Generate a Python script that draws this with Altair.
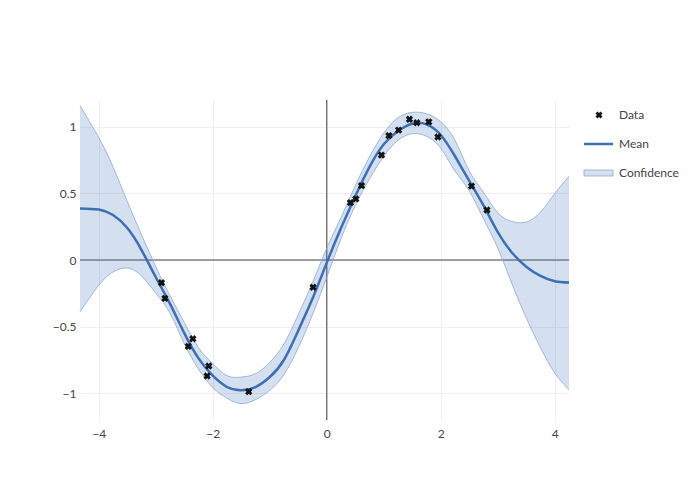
import altair as alt
import pandas as pd

# Posterior grid
grid_x = [-4.33, -4.0, -3.75, -3.5, -3.25, -3.0, -2.75, -2.5, -2.25, -2.0, -1.75, -1.5,
          -1.25, -1.0, -0.75, -0.5, -0.25, 0.0, 0.25, 0.5, 0.75, 1.0, 1.25, 1.5, 1.75,
          2.0, 2.25, 2.5, 2.75, 3.0, 3.25, 3.5, 3.75, 4.0, 4.25]
mean_y = [0.388, 0.38, 0.338, 0.24, 0.075, -0.13, -0.33, -0.55, -0.74, -0.87, -0.955, -0.98,
          -0.955, -0.88, -0.75, -0.53, -0.29, -0.02, 0.24, 0.48, 0.70, 0.87, 0.97, 1.025, 1.02,
          0.94, 0.78, 0.595, 0.41, 0.21, 0.055, -0.05, -0.12, -0.16, -0.17]
upper_y = [1.16, 0.92, 0.70, 0.44, 0.19, -0.05, -0.27, -0.47, -0.66, -0.78, -0.87, -0.88,
           -0.855, -0.77, -0.63, -0.41, -0.17, 0.09, 0.32, 0.56, 0.775, 0.955, 1.07, 1.11, 1.10,
           1.04, 0.90, 0.67, 0.51, 0.355, 0.29, 0.285, 0.36, 0.50, 0.63]
lower_y = [-0.39, -0.19, -0.09, -0.06, -0.12, -0.25, -0.40, -0.63, -0.82, -0.96, -1.04, -1.08,
           -1.05, -0.98, -0.86, -0.66, -0.41, -0.13, 0.16, 0.41, 0.61, 0.78, 0.90, 0.95, 0.93,
           0.84, 0.67, 0.52, 0.31, 0.09, -0.18, -0.435, -0.66, -0.85, -0.975]

# Observations
obs_x = [-2.90, -2.84, -2.43, -2.35, -2.10, -2.07, -1.37, -0.24, 0.415, 0.51,
         0.61, 0.96, 1.09, 1.26, 1.45, 1.58, 1.79, 1.95, 2.54, 2.81]
obs_y = [-0.171, -0.288, -0.649, -0.592, -0.872, -0.797, -0.990, -0.205, 0.431, 0.459,
         0.559, 0.789, 0.935, 0.977, 1.058, 1.032, 1.038, 0.925, 0.556, 0.376]

legend_labels = ["Data", "Mean", "Confidence"]
x_ticks = [-4, -2, 0, 2, 4]
y_ticks = [-1, -0.5, 0, 0.5, 1]

curve = pd.DataFrame({"x": grid_x, "mean": mean_y, "upper": upper_y, "lower": lower_y})
obs = pd.DataFrame({"x": obs_x, "y": obs_y})

FONT = "Lato"
TXT = "#444444"
LINE_C = "#3d6fb3"
EDGE_C = "#8fa8cc"
BAND_C = "#4a7bbf"
INTERP = "natural"

xs = alt.Scale(domain=[-4.33, 4.25], nice=False, zero=False)
ys = alt.Scale(domain=[-1.203, 1.203], nice=False, zero=False)

xaxis = alt.Axis(values=x_ticks, title=None, grid=True, gridColor="#eeeeee", domain=False,
                 ticks=False, labelColor=TXT, labelFontSize=12, labelFont=FONT,
                 labelPadding=8, format="~g", labelFlush=False)
yaxis = alt.Axis(values=y_ticks, title=None, grid=True, gridColor="#eeeeee", domain=False,
                 ticks=False, labelColor=TXT, labelFontSize=12, labelFont=FONT,
                 labelPadding=4, format="~g", labelFlush=False)


def X(f):
    return alt.X(f, scale=xs, axis=xaxis, title=None)


def Y(f):
    return alt.Y(f, scale=ys, axis=yaxis, title=None)


zero = pd.DataFrame({"v": [0]})
zero_h = alt.Chart(zero).mark_rule(color=TXT, strokeWidth=1).encode(y=Y("v:Q"))
zero_v = alt.Chart(zero).mark_rule(color=TXT, strokeWidth=1).encode(x=X("v:Q"))

band = alt.Chart(curve).mark_area(color=BAND_C, opacity=0.24, interpolate=INTERP).encode(
    x=X("x:Q"), y=Y("lower:Q"), y2="upper:Q")
edge_u = alt.Chart(curve).mark_line(color=EDGE_C, strokeWidth=0.8, interpolate=INTERP).encode(
    x=X("x:Q"), y=Y("upper:Q"))
edge_l = alt.Chart(curve).mark_line(color=EDGE_C, strokeWidth=0.8, interpolate=INTERP).encode(
    x=X("x:Q"), y=Y("lower:Q"))
mean_line = alt.Chart(curve).mark_line(color=LINE_C, strokeWidth=2.5, interpolate=INTERP).encode(
    x=X("x:Q"), y=Y("mean:Q"))
points = alt.Chart(obs).mark_point(shape="cross", filled=True, angle=45, size=55,
                                   color="#141414", opacity=1).encode(
    x=X("x:Q"), y=Y("y:Q"))

# Legend (drawn to the right of the plot area)
lab = pd.DataFrame({"label": legend_labels})
leg_data = alt.Chart(lab.iloc[[0]]).mark_point(shape="cross", filled=True, angle=45, size=50,
                                               color="#141414", opacity=1).encode(
    x=alt.value(519), y=alt.value(15))
leg_mean = alt.Chart(lab.iloc[[1]]).mark_rule(color=LINE_C, strokeWidth=2.5).encode(
    x=alt.value(504), x2=alt.value(533), y=alt.value(44))
leg_conf = alt.Chart(lab.iloc[[2]]).mark_rect(fill="#d4dff0", stroke=EDGE_C, strokeWidth=0.8).encode(
    x=alt.value(504), x2=alt.value(533), y=alt.value(70), y2=alt.value(76))
leg_texts = []
for i, yy in enumerate([15, 44, 73]):
    leg_texts.append(
        alt.Chart(lab.iloc[[i]]).mark_text(align="left", baseline="middle", fontSize=12,
                                           font=FONT, color=TXT).encode(
            x=alt.value(539), y=alt.value(yy), text="label:N"))

chart = alt.layer(zero_h, zero_v, band, edge_u, edge_l, mean_line, points,
                  leg_data, leg_mean, leg_conf, *leg_texts).properties(
    width=489, height=320,
    autosize=alt.AutoSizeParams(type="none"),
    padding={"left": 72, "top": 92, "right": 123, "bottom": 72},
    background="white",
).configure_view(stroke=None)

chart.save("out.html", embed_options={"renderer": "svg", "actions": False})
